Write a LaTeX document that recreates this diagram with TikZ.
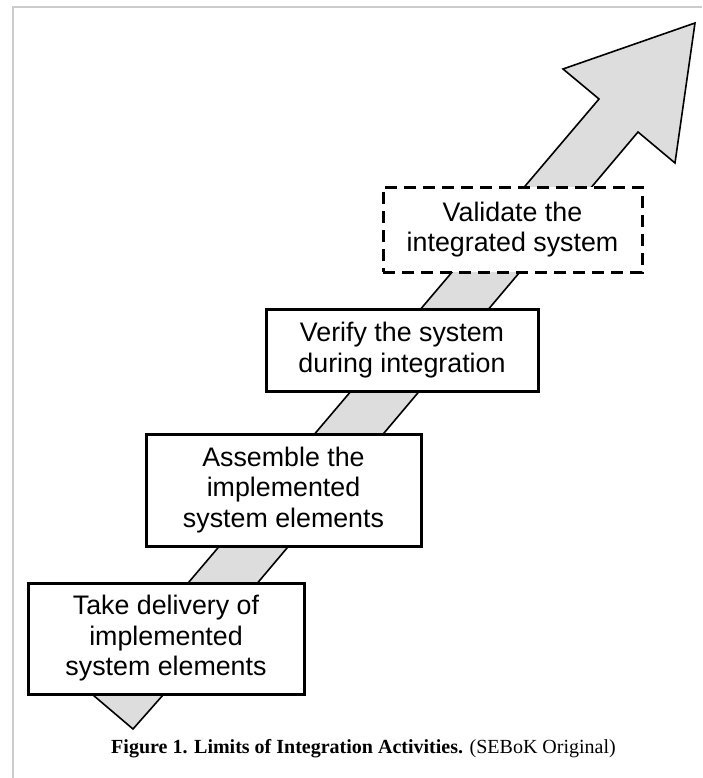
\documentclass[tikz,border=0pt]{standalone}
\usepackage{fontspec}
\setmainfont{Liberation Sans}
\newfontfamily\capfont{Liberation Serif}
\usepackage{tikz}
\usetikzlibrary{positioning}

\definecolor{shaftgray}{HTML}{DDDDDD}
\definecolor{framegray}{HTML}{CCCCCC}

\begin{document}
\begin{tikzpicture}[
  x=1pt, y=-1pt,
  every node/.style={align=center, inner sep=0pt},
  stage/.style={draw, line width=3pt, fill=white, font=\fontsize{26.8}{30.5}\selectfont},
  later/.style={stage, dashed, dash pattern=on 12pt off 7pt}
]
  \useasboundingbox (0,0) rectangle (702,778);
  \draw[framegray, line width=1.5pt] (13,778) -- (13,7) -- (702,7);

  % the big arrow behind the boxes
  \filldraw[fill=shaftgray, line width=1.6pt, line join=miter]
    (133,729) -- (93,695) -- (599,99) -- (563,69) -- (695,23)
    -- (675,163) -- (638,132) -- (163,695) -- cycle;

  \node[stage, minimum width=276pt, minimum height=111pt] (take)     at (166,638.5) {Take delivery of\\implemented\\system elements};
  \node[stage, minimum width=275pt, minimum height=112pt] (assemble) at (283.5,490) {Assemble the\\implemented\\system elements};
  \node[stage, minimum width=272pt, minimum height=82pt]  (verify)   at (402,350)   {Verify the system\\during integration};
  \node[later, minimum width=259pt, minimum height=85pt]  (validate) at (512.5,229.5) {Validate the\\integrated system};

  \node[anchor=base, font=\capfont\fontsize{20}{22}\selectfont] (caption) at (363.5,753)
    {\textbf{Figure 1. Limits of Integration Activities.} (SEBoK Original)};
\end{tikzpicture}
\end{document}
